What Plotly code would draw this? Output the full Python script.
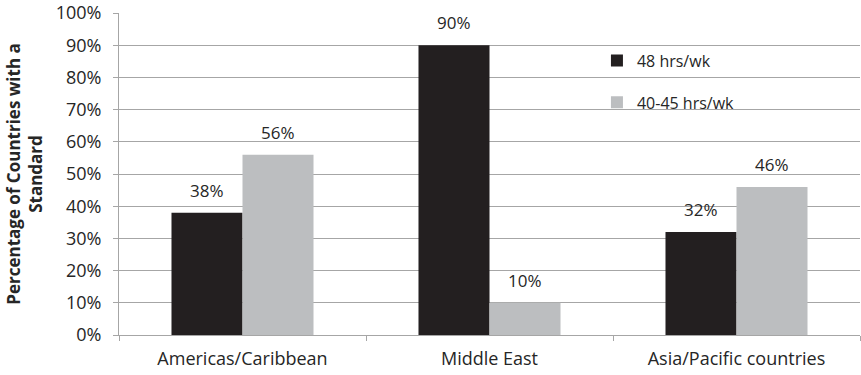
import plotly.graph_objects as go

regions = ["Americas/Caribbean", "Middle East", "Asia/Pacific countries"]
hrs_48 = [38, 90, 32]
hrs_40_45 = [56, 10, 46]
series_names = ["48 hrs/wk", "40-45 hrs/wk"]
y_ticks = [0, 10, 20, 30, 40, 50, 60, 70, 80, 90, 100]
y_tick_labels = [f"{v}%" for v in y_ticks]

FONT = "'Open Sans', Lato, sans-serif"
TXT = "#262626"
GRID = "#a6a6a6"
SIZE = 17
TICK_SIZE = 18
BAR_HALF_PX = 35.5  # half of one bar's width in pixels, used to centre value labels

fig = go.Figure()
fig.add_trace(go.Bar(
    x=regions, y=hrs_48, name=series_names[0],
    marker=dict(color="#231f20", line=dict(width=0)),
    legendgroup="a",
))
fig.add_trace(go.Bar(
    x=regions, y=hrs_40_45, name=series_names[1],
    marker=dict(color="#bcbec0", line=dict(width=0)),
    legendgroup="b",
))

# value labels above each bar
for vals, shift in ((hrs_48, -BAR_HALF_PX), (hrs_40_45, BAR_HALF_PX)):
    for region, v in zip(regions, vals):
        fig.add_annotation(
            x=region, y=v, text=f"{v}%", showarrow=False,
            xanchor="center", yanchor="bottom", xshift=shift, yshift=9,
            font=dict(size=SIZE, color=TXT, family=FONT),
        )

fig.update_layout(
    width=861, height=375,
    margin=dict(l=119, r=1, t=13, b=40),
    paper_bgcolor="white", plot_bgcolor="white",
    font=dict(family=FONT, size=SIZE, color=TXT),
    barmode="group", bargap=0.425, bargroupgap=0,
    showlegend=True,
    legend=dict(
        x=0.645, y=0.905, xanchor="left", yanchor="top",
        bgcolor="rgba(0,0,0,0)", traceorder="grouped",
        tracegroupgap=18, font=dict(size=16, color=TXT, family=FONT),
        itemwidth=30,
    ),
)
fig.update_yaxes(
    range=[0, 100], tickvals=y_ticks, ticktext=y_tick_labels,
    showgrid=True, gridcolor=GRID, gridwidth=1,
    showline=True, linecolor=GRID, linewidth=1,
    ticks="outside", ticklen=5, tickcolor=GRID,
    ticklabelstandoff=8,
    tickfont=dict(size=TICK_SIZE, color=TXT, family=FONT),
    zeroline=False,
    title=dict(text="<b>Percentage of Countries with a<br>Standard</b>",
               font=dict(size=SIZE, color=TXT, family=FONT), standoff=8),
)
fig.update_xaxes(
    showline=True, linecolor=GRID, linewidth=1,
    ticks="outside", ticklen=5, tickcolor=GRID, tickson="boundaries",
    ticklabelstandoff=7,
    tickfont=dict(size=TICK_SIZE, color=TXT, family=FONT),
    showgrid=False,
)

fig.write_html("out.html")
